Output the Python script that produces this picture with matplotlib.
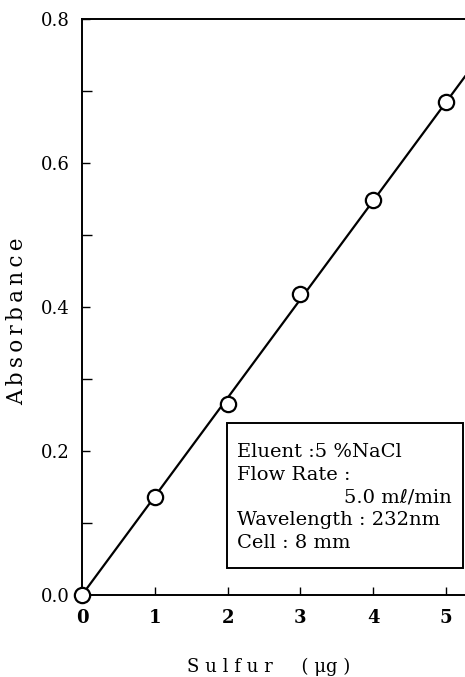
import matplotlib
matplotlib.use("Agg")
import matplotlib.pyplot as plt
from matplotlib.ticker import MultipleLocator

# Data
sulfur_ug = [0, 1, 2, 3, 4, 5]
absorbance = [0.0, 0.136, 0.265, 0.418, 0.549, 0.684]
fit_x = [0, 5.26]
fit_y = [0.0, 0.72]

x_ticks = [0, 1, 2, 3, 4, 5]
y_ticks = [0.0, 0.2, 0.4, 0.6, 0.8]
y_tick_labels = ["0.0", "0.2", "0.4", "0.6", "0.8"]

legend_lines = [
    "Eluent :5 %NaCl",
    "Flow Rate :",
    "5.0 mℓ/min",
    "Wavelength : 232nm",
    "Cell : 8 mm",
]

plt.rcParams['font.family'] = ['DejaVu Serif', 'DejaVu Sans']

fig = plt.figure(figsize=(4.65, 6.77), dpi=100)
ax = fig.add_axes([0.1763, 0.1211, 0.8237, 0.851])

ax.plot(fit_x, fit_y, color='black', linewidth=1.6, zorder=2, clip_on=False)
ax.plot(sulfur_ug, absorbance, linestyle='none', marker='o', markersize=11,
        markerfacecolor='white', markeredgecolor='black', markeredgewidth=1.6,
        zorder=3, clip_on=False)

ax.set_xlim(0, 5.26)
ax.set_ylim(0, 0.8)
ax.set_xticks(x_ticks)
ax.set_yticks(y_ticks)
ax.set_yticklabels(y_tick_labels)
ax.yaxis.set_minor_locator(MultipleLocator(0.1))

ax.spines['right'].set_visible(False)
for s in ['left', 'bottom', 'top']:
    ax.spines[s].set_linewidth(1.4)

ax.tick_params(axis='y', which='major', direction='in', length=6, width=1.0,
               labelsize=13, pad=9)
ax.tick_params(axis='y', which='minor', direction='in', length=7, width=1.0)
ax.tick_params(axis='x', which='major', direction='in', length=6, width=1.0,
               labelsize=13, pad=10)
for lbl in ax.get_xticklabels():
    lbl.set_fontweight('bold')

ylab = "\u2009".join("Absorbance")
ax.set_ylabel(ylab, fontsize=15.5)
ax.yaxis.set_label_coords(-0.14, 0.475)
ax.set_xlabel("S u l f u r     ( μg )", fontsize=13, va='center')
ax.xaxis.set_label_coords(0.488, -0.125)

# Condition box
box_x0, box_x1 = 227 / 465, 463 / 465
box_y0, box_y1 = 1 - 568 / 677, 1 - 423 / 677
rect = plt.Rectangle((box_x0, box_y0), box_x1 - box_x0, box_y1 - box_y0,
                     transform=fig.transFigure, fill=True, facecolor='white',
                     edgecolor='black', linewidth=1.4, zorder=5)
fig.patches.append(rect)

line_ys = [452, 475, 498, 520, 543]
for i, (txt, yy) in enumerate(zip(legend_lines, line_ys)):
    if i == 2:
        fig.text(452 / 465, 1 - yy / 677, txt, ha='right', va='center',
                 fontsize=14, zorder=6)
    else:
        fig.text(237 / 465, 1 - yy / 677, txt, ha='left', va='center',
                 fontsize=14, zorder=6)

fig.savefig("out.png", dpi=100)
